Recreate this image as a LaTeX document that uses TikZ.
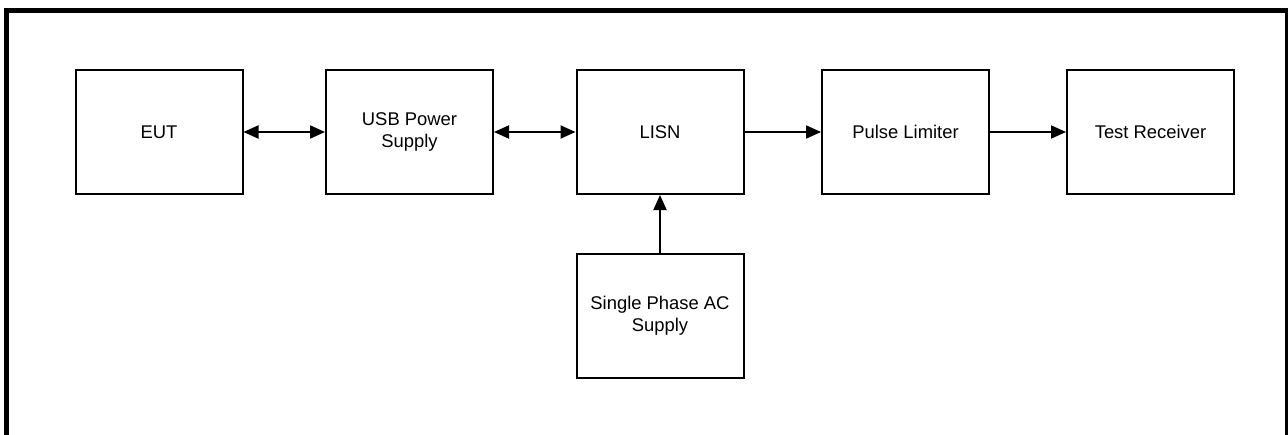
\documentclass[tikz,border=0pt]{standalone}
\usepackage{fontspec}
\setmainfont{Liberation Sans}
\usetikzlibrary{arrows.meta}
\begin{document}
\begin{tikzpicture}[x=1pt,y=-1pt,
  block/.style={draw=black, line width=2pt, minimum width=167pt, minimum height=124pt,
    inner sep=0pt, align=center, font=\fontsize{18.4}{21.5}\selectfont},
  link/.style={line width=2pt, -{Triangle[length=15pt,width=13pt]}},
  dlink/.style={line width=2pt, {Triangle[length=15pt,width=13pt]}-{Triangle[length=15pt,width=13pt]}}]
  \useasboundingbox (0,0) rectangle (1288,434);
  \begin{scope}
    \clip (0,0) rectangle (1288,434);
    % outer frame, open at the bottom of the sheet
    \draw[line width=5pt] (6.5,460) -- (6.5,10.5) -- (1287.5,10.5) -- (1287.5,460);
  \end{scope}
  % blocks
  \node[block] (eut)   at (159,132)    {EUT};
  \node[block] (usb)   at (409.5,132)  {USB Power\\Supply};
  \node[block] (lisn)  at (660,132)    {LISN};
  \node[block] (pulse) at (905.5,132)  {Pulse Limiter};
  \node[block] (rx)    at (1150.5,132) {Test Receiver};
  \node[block] (ac)    at (660,315.5)  {Single Phase AC\\Supply};
  % connections
  \draw[dlink] (eut) -- (usb);
  \draw[dlink] (usb) -- (lisn);
  \draw[link] (lisn) -- (pulse);
  \draw[link] (pulse) -- (rx);
  \draw[link] (ac) -- (lisn);
\end{tikzpicture}
\end{document}
